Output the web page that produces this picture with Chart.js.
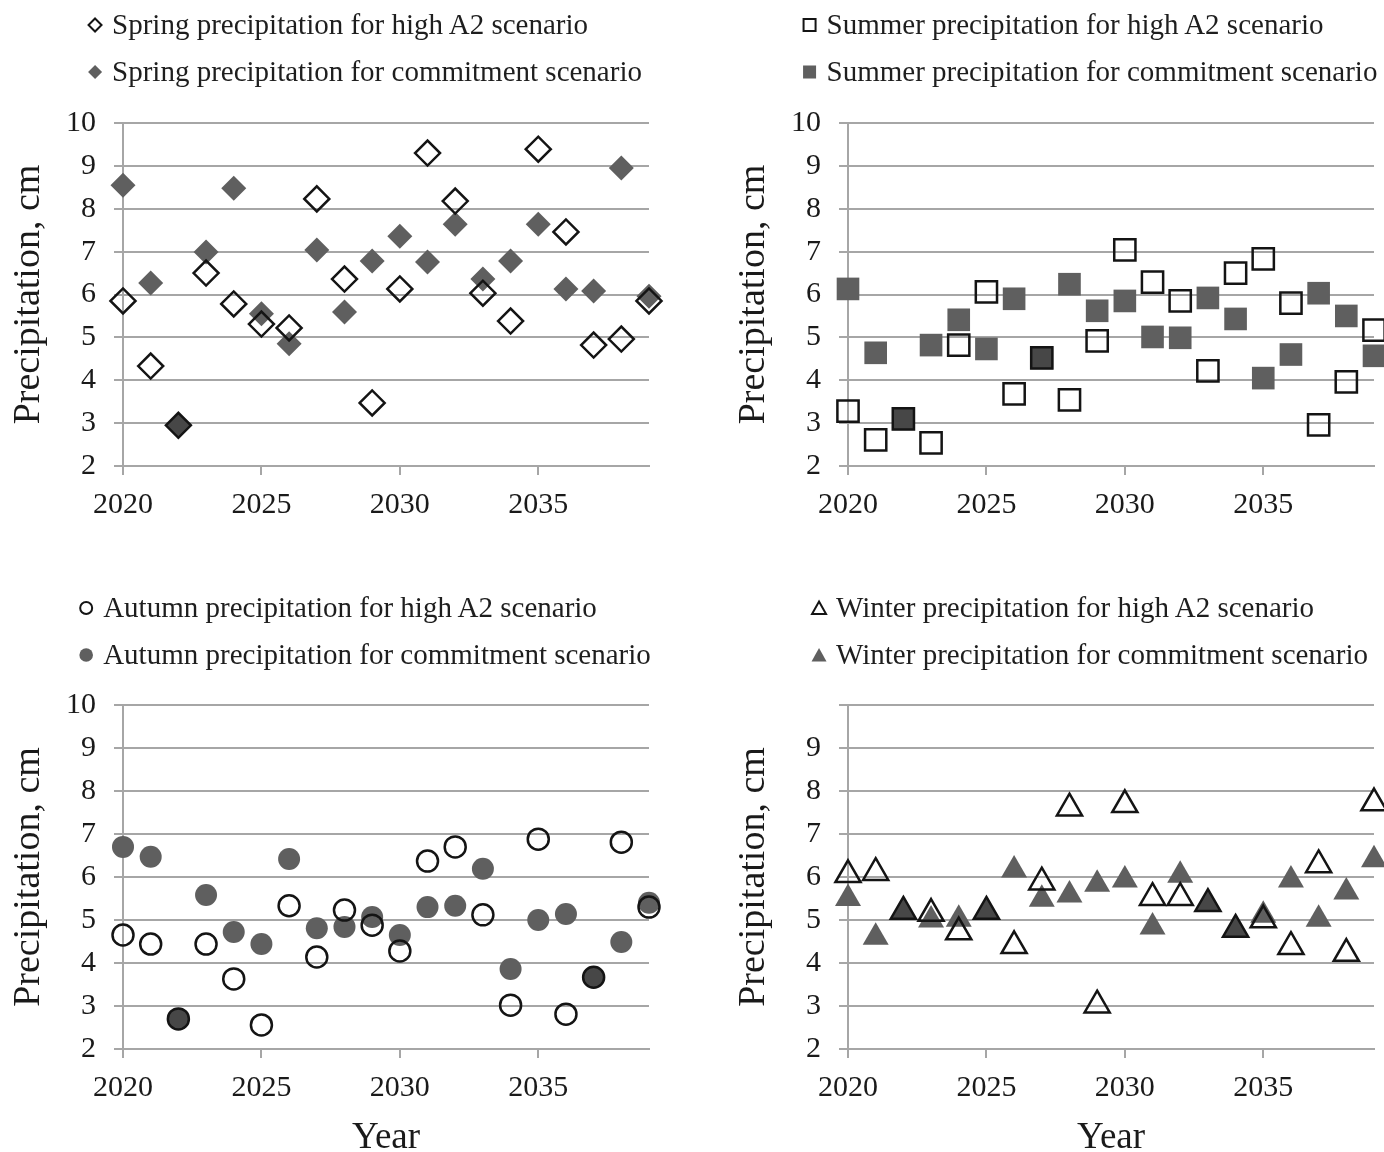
<!DOCTYPE html>
<html>
<head>
<meta charset="utf-8">
<script src="https://cdn.jsdelivr.net/npm/chart.js@4/dist/chart.umd.min.js"></script>
<style>
  html, body { margin:0; padding:0; background:#fff; width:1384px; height:1152px; overflow:hidden; }
  #page { position:relative; width:1384px; height:1152px; overflow:hidden; background:#fff; }
  canvas.panel { position:absolute; }
  .legend { position:absolute; transform:translateX(-50%); font-family:'Liberation Serif','Times New Roman',serif;
            font-size:29px; color:#1e1e1e; white-space:nowrap; z-index:2; }
  .row { display:flex; align-items:center; height:47px; }
  .row svg { margin-right:8px; flex:none; }
</style>
</head>
<body>
<div id="page">
  <canvas id="cSpring" class="panel" width="700" height="475" style="left:0px;top:80px;"></canvas>
  <canvas id="cSummer" class="panel" width="700" height="475" style="left:725px;top:80px;"></canvas>
  <canvas id="cAutumn" class="panel" width="700" height="497" style="left:0px;top:660px;"></canvas>
  <canvas id="cWinter" class="panel" width="700" height="497" style="left:725px;top:660px;"></canvas>
  <div id="lSpring" class="legend" style="left:364px;top:1px;"></div>
  <div id="lSummer" class="legend" style="left:1089px;top:1px;"></div>
  <div id="lAutumn" class="legend" style="left:364px;top:584px;"></div>
  <div id="lWinter" class="legend" style="left:1089px;top:584px;"></div>
</div>
<script>
// ---------------- data ----------------
const years = [2020,2021,2022,2023,2024,2025,2026,2027,2028,2029,2030,2031,2032,2033,2034,2035,2036,2037,2038,2039];
const xTicks = [2020,2025,2030,2035];
const yTicks = [2,3,4,5,6,7,8,9,10];

const springLabels = ['Spring precipitation for high A2 scenario','Spring precipitation for commitment scenario'];
const springA2     = [5.85,4.33,2.95,6.50,5.78,5.31,5.22,8.23,6.36,3.47,6.13,9.30,8.18,6.03,5.38,9.39,7.46,4.82,4.96,5.85];
const springCommit = [8.55,6.27,2.95,6.99,8.48,5.55,4.85,7.04,5.59,6.78,7.36,6.76,7.64,6.36,6.78,7.64,6.13,6.08,8.95,5.96];

const summerLabels = ['Summer precipitation for high A2 scenario','Summer precipitation for commitment scenario'];
const summerA2     = [3.28,2.61,3.10,2.54,4.82,6.06,3.68,4.52,3.54,4.92,7.04,6.29,5.85,4.22,6.50,6.83,5.80,2.96,3.96,5.17];
const summerCommit = [6.13,4.64,3.10,4.82,5.41,4.73,5.90,4.52,6.24,5.62,5.85,5.01,4.99,5.92,5.43,4.05,4.60,6.03,5.50,4.57];

const autumnLabels = ['Autumn precipitation for high A2 scenario','Autumn precipitation for commitment scenario'];
const autumnA2     = [4.65,4.44,2.70,4.44,3.63,2.56,5.33,4.14,5.23,4.88,4.28,6.37,6.70,5.12,3.02,6.88,2.81,3.67,6.81,5.30];
const autumnCommit = [6.70,6.47,2.70,5.58,4.72,4.44,6.42,4.81,4.84,5.07,4.65,5.30,5.33,6.19,3.86,5.00,5.14,3.67,4.49,5.40];

const winterLabels = ['Winter precipitation for high A2 scenario','Winter precipitation for commitment scenario'];
const winterA2     = [6.05,6.10,5.20,5.15,4.72,5.20,4.40,5.88,7.60,3.02,7.68,5.52,5.52,5.38,4.78,5.00,4.38,6.28,4.22,7.72];
const winterCommit = [5.50,4.60,5.20,5.00,5.02,5.20,6.16,5.48,5.58,5.83,5.93,4.84,6.04,5.38,4.78,5.11,5.93,5.02,5.65,6.40];

// ---------------- styles ----------------
const FONT = "'Liberation Serif','Times New Roman',serif";
const TXT = '#1a1a1a';
const GRID = '#a6a6a6';
const FILL = '#5f5f5f';
const EDGE = '#141414';

function markerSVG(style, open) {
  const s = open ? `fill="none" stroke="${EDGE}" stroke-width="2"` : `fill="${FILL}"`;
  let shape = '';
  if (style === 'rectRot') shape = open ? `<polygon points="9,2.5 15.5,9 9,15.5 2.5,9" ${s}/>` : `<polygon points="9,2 16,9 9,16 2,9" ${s}/>`;
  if (style === 'rect') shape = open ? `<rect x="3" y="3" width="12" height="12" ${s}/>` : `<rect x="2.5" y="2.5" width="13" height="13" ${s}/>`;
  if (style === 'circle') shape = open ? `<circle cx="9" cy="9" r="6" ${s}/>` : `<circle cx="9" cy="9" r="6.8" ${s}/>`;
  if (style === 'triangle') shape = open ? `<polygon points="9,2.5 16,15 2,15" ${s}/>` : `<polygon points="9,2 16.5,15.5 1.5,15.5" ${s}/>`;
  return `<svg width="18" height="18" viewBox="0 0 18 18">${shape}</svg>`;
}

function makeLegend(id, labels, style) {
  const el = document.getElementById(id);
  el.innerHTML = labels.map((t, i) =>
    `<div class="row">${markerSVG(style, i === 0)}<span>${t}</span></div>`).join('');
}

function makePanel(id, cfg) {
  const a2 = cfg.a2, com = cfg.commit;
  new Chart(document.getElementById(id), {
    type: 'scatter',
    data: {
      datasets: [
        {
          label: cfg.labels[0],
          data: years.map((x, i) => ({ x: x, y: a2[i] })),
          pointStyle: cfg.style,
          pointRadius: cfg.rOpen,
          pointBorderWidth: 2.5,
          pointBorderColor: EDGE,
          pointBackgroundColor: (ctx) => {
            const i = ctx.dataIndex;
            return (i !== undefined && Math.abs(a2[i] - com[i]) < 0.06) ? 'rgba(30,30,30,0.35)' : 'rgba(255,255,255,0)';
          },
          clip: false
        },
        {
          label: cfg.labels[1],
          data: years.map((x, i) => ({ x: x, y: com[i] })),
          pointStyle: cfg.style,
          pointRadius: cfg.rFill,
          pointBorderWidth: 0,
          pointBorderColor: FILL,
          pointBackgroundColor: FILL,
          clip: false
        }
      ]
    },
    options: {
      responsive: false,
      animation: false,
      events: [],
      layout: { padding: { top: cfg.padTop, right: 51, left: 0, bottom: 0 } },
      plugins: { legend: { display: false }, tooltip: { enabled: false } },
      scales: {
        x: {
          type: 'linear', min: 2020, max: 2039,
          afterBuildTicks: (s) => { s.ticks = xTicks.map(v => ({ value: v })); },
          afterFit: (s) => { s.height = cfg.xH; },
          grid: { drawOnChartArea: false, drawTicks: true, tickLength: 9, color: GRID, lineWidth: 2 },
          border: { display: true, color: GRID, width: 2 },
          ticks: { font: { family: FONT, size: 30 }, color: TXT, padding: 12, maxRotation: 0, autoSkip: false,
                   callback: (v) => String(v) },
          title: { display: cfg.showYear, text: 'Year', color: TXT, padding: 0,
                   font: { family: FONT, size: 37, lineHeight: 1 } }
        },
        y: {
          min: 2, max: 10,
          afterBuildTicks: (s) => { s.ticks = yTicks.map(v => ({ value: v })); },
          afterFit: (s) => { s.width = 123; },
          grid: { color: GRID, lineWidth: 2, tickLength: 9 },
          border: { display: true, color: GRID, width: 2 },
          ticks: { font: { family: FONT, size: 30 }, color: TXT, padding: 18,
                   callback: (v) => (cfg.hideTop && v === 10) ? '' : String(v) },
          title: { display: true, text: 'Precipitation, cm', color: TXT, padding: { top: 6, bottom: 0 },
                   font: { family: FONT, size: 38 } }
        }
      }
    }
  });
}

makePanel('cSpring', { a2: springA2, commit: springCommit, labels: springLabels, style: 'rectRot', rOpen: 12.5, rFill: 12.5, padTop: 43, xH: 89, showYear: false, hideTop: false });
makePanel('cSummer', { a2: summerA2, commit: summerCommit, labels: summerLabels, style: 'rect', rOpen: 15, rFill: 16, padTop: 43, xH: 89, showYear: false, hideTop: false });
makePanel('cAutumn', { a2: autumnA2, commit: autumnCommit, labels: autumnLabels, style: 'circle', rOpen: 10.5, rFill: 11, padTop: 45, xH: 108, showYear: true, hideTop: false });
makePanel('cWinter', { a2: winterA2, commit: winterCommit, labels: winterLabels, style: 'triangle', rOpen: 14.5, rFill: 15, padTop: 45, xH: 108, showYear: true, hideTop: true });

makeLegend('lSpring', springLabels, 'rectRot');
makeLegend('lSummer', summerLabels, 'rect');
makeLegend('lAutumn', autumnLabels, 'circle');
makeLegend('lWinter', winterLabels, 'triangle');
</script>
</body>
</html>
